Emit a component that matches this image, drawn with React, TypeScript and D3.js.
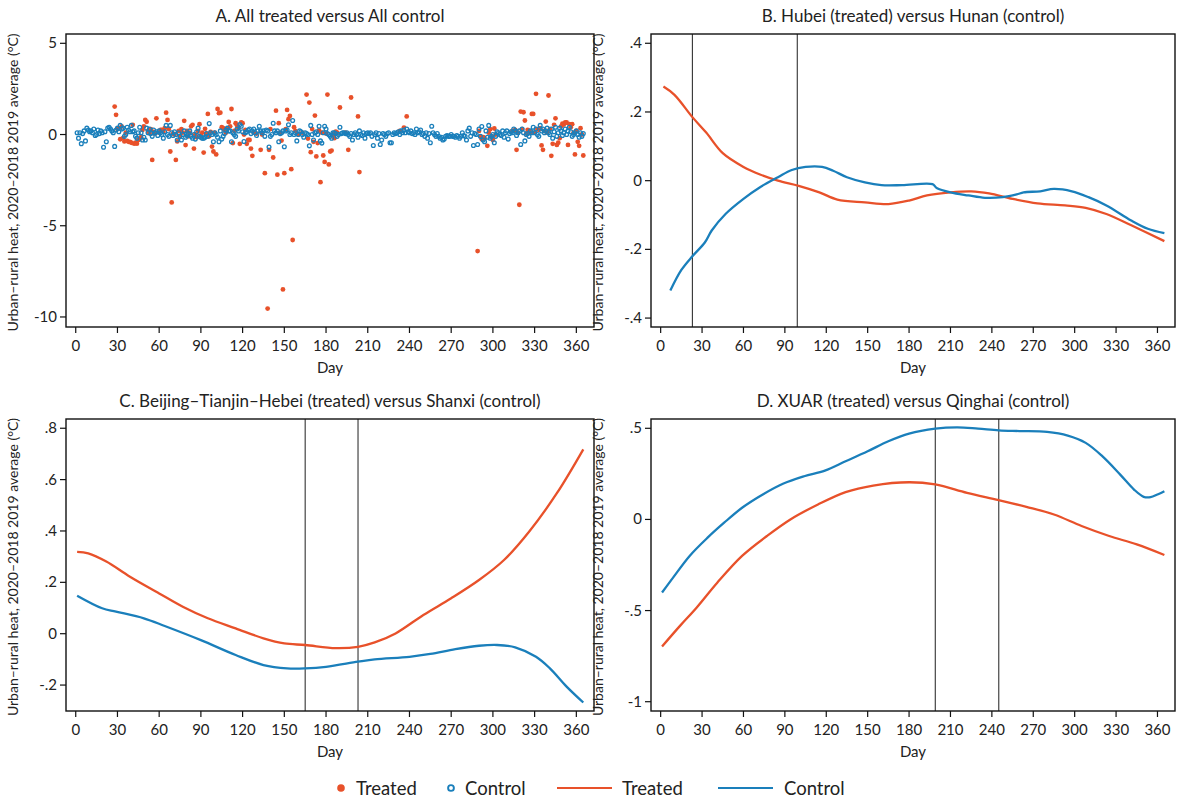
import React from "react";
import * as d3 from "d3";

const RED = "#e8512a";
const BLUE = "#1a7fbb";
const FONT = "Lato, 'Open Sans', 'DejaVu Sans', sans-serif";

const xTicks = [0, 30, 60, 90, 120, 150, 180, 210, 240, 270, 300, 330, 360];

// Panel A: control daily values (day 1..365)
const controlA: number[] = [
  0.1,-0.2,0.1,-0.5,0.05,0.2,-0.35,0.35,0.25,0.15,0.2,0.1,0.3,-0.05,0.0,0.25,0.05,0.2,0.1,-0.7,0.15,-0.4,0.35,0.4,0.3,0.2,0.1,-0.65,0.25,0.35,
  0.15,0.5,0.3,0.35,-0.1,0.0,0.4,0.25,0.15,0.5,0.15,0.2,-0.1,-0.2,0.1,0.4,0.1,-0.3,-0.15,-0.3,0.35,0.1,0.3,0.05,-0.1,0.25,0.1,0.15,-0.05,0.2,
  0.1,0.0,-0.2,0.15,0.5,0.0,-0.1,0.5,0.1,-0.05,0.15,0.0,-0.3,0.1,-0.1,-0.3,0.0,0.2,-0.15,-0.05,0.05,0.2,-0.1,-0.2,0.0,-0.25,0.15,0.35,-0.1,-0.15,
  -0.2,-0.2,-0.15,0.05,-0.1,0.6,0.1,0.0,-0.4,0.1,0.0,-0.15,-0.4,0.2,-0.25,-0.1,0.05,0.25,0.35,0.2,0.2,-0.4,0.1,0.0,-0.1,0.3,0.2,0.55,0.45,0.15,
  -0.38,0.1,0.15,0.25,0.3,0.05,0.2,0.3,0.1,-0.05,0.2,0.45,0.2,0.1,0.2,-0.1,0.25,0.2,-0.69,-0.1,0.0,0.62,0.2,0.1,0.2,-0.4,0.05,0.1,0.2,-0.67,
  0.2,0.25,0.53,0.0,0.1,0.77,0.0,0.1,-0.35,0.0,0.2,0.15,0.0,-0.15,0.1,0.05,0.0,-0.62,0.5,0.0,-0.3,0.1,0.15,0.0,0.45,-0.35,-0.47,0.1,0.45,0.3,
  0.05,0.0,-0.1,-0.2,0.1,0.1,0.05,-0.1,0.0,0.4,0.05,0.1,0.1,0.05,0.1,0.0,-0.1,0.05,-0.3,0.0,0.1,0.0,-0.15,0.2,0.0,-0.05,0.1,-0.2,0.05,0.1,
  0.05,0.1,-0.1,-0.6,0.0,0.1,-0.2,0.05,-0.55,-0.3,0.05,0.0,-0.1,0.05,0.1,-0.45,-0.45,0.0,0.1,0.05,0.1,0.15,0.0,0.2,0.1,0.25,0.1,0.3,0.15,0.1,
  0.2,0.05,0.1,0.0,0.3,0.1,0.15,0.25,0.0,0.05,-0.1,0.1,-0.2,0.05,-0.45,0.45,0.1,0.0,-0.1,0.05,-0.1,-0.2,-0.15,-0.3,-0.25,-0.1,-0.05,-0.1,-0.1,0.0,
  -0.1,-0.1,-0.15,-0.05,-0.1,-0.2,-0.1,0.1,-0.05,-0.1,-0.3,0.2,0.35,-0.1,0.1,-0.6,0.05,0.0,-0.55,0.3,-0.1,0.44,-0.3,-0.4,0.2,-0.15,0.5,-0.2,-0.1,0.0,
  -0.45,-0.1,0.15,0.1,0.0,-0.05,0.2,-0.15,0.1,0.2,-0.25,0.05,0.15,0.1,0.3,0.2,-0.05,0.1,0.2,-0.55,0.3,0.1,-0.35,0.0,0.05,-0.1,0.2,0.1,0.4,0.1,
  0.3,0.0,-0.1,0.5,0.2,0.3,0.1,0.2,0.35,0.1,0.0,0.3,-0.2,0.15,0.4,-0.1,0.1,0.35,0.2,-0.05,0.1,0.3,0.0,0.2,0.4,0.15,-0.1,0.0,0.1,0.2,
  0.0,-0.15,0.1,-0.1,0.05,
];

// Panel A: treated [day, value]
const treatedA: [number, number][] = [
  [28,1.53],[29,1.08],[30,0.3],[31,0.35],[32,-0.26],[33,0.44],[34,-0.2],[35,-0.38],[36,0.1],[37,-0.35],[38,-0.4],[39,-0.4],[40,-0.45],[41,0.53],[42,-0.5],[43,-0.45],[44,-0.5],[45,-0.3],[46,-0.25],[47,-0.15],[48,0.25],[49,0.45],[50,0.8],[51,0.7],[52,0.2],[53,0.07],[54,0.3],[55,-1.39],[56,0.15],[57,0.05],[58,0.89],[60,0.1],[61,0.26],[62,0.25],[63,0.15],[64,0.35],[65,1.2],[66,0.8],[67,0.3],[68,-0.93],[69,-3.72],[70,0.05],[71,0.0],[72,-1.39],[73,-0.38],[74,0.2],[75,-0.1],[76,0.3],[77,0.1],[78,0.75],[79,-0.58],[80,0.2],[81,-0.1],[82,0.1],[83,0.45],[84,0.53],[85,-0.77],[86,0.0],[87,-0.15],[88,0.2],[89,0.57],[90,-0.05],[91,0.1],[92,-0.99],[93,0.31],[94,0.05],[95,1.13],[96,-0.1],[97,0.15],[98,-0.66],[99,-0.93],[100,0.1],[101,-1.09],[102,1.4],[103,1.17],[104,1.2],[105,0.4],[106,0.35],[107,0.26],[108,0.1],[109,0.3],[110,0.69],[111,0.45],[112,1.4],[113,-0.47],[114,0.2],[115,0.62],[116,0.51],[117,0.35],[118,-0.51],[119,0.66],[120,0.62],[121,0.0],[122,0.25],[123,-0.51],[124,-0.29],[125,-0.3],[126,-0.77],[127,-1.17],[128,0.1],[130,0.05],[133,-0.84],[134,0.0],[136,-2.12],[138,-9.54],[139,-0.84],[140,0.3],[142,-1.26],[144,1.31],[145,-2.2],[146,0.62],[147,0.1],[148,-0.33],[149,-8.49],[150,-2.12],[151,0.3],[152,1.35],[153,0.84],[154,1.02],[155,-1.9],[156,-5.78],[157,0.4],[158,0.2],[160,0.0],[163,0.1],[166,2.19],[167,-0.22],[168,1.75],[169,-0.97],[170,0.3],[171,-0.4],[172,1.04],[173,-1.2],[174,-0.47],[175,0.22],[176,-2.61],[177,0.1],[178,-1.15],[179,-1.5],[180,0.05],[181,2.19],[182,-1.64],[183,-0.93],[184,-0.88],[185,0.0],[186,-0.2],[187,0.16],[188,0.1],[190,1.48],[194,0.1],[196,-0.84],[198,2.03],[203,0.99],[204,-2.06],[233,0.2],[236,0.38],[238,0.99],[289,-6.39],[290,0.2],[291,-0.1],[292,-0.26],[293,-0.15],[294,-0.2],[296,-0.62],[297,0.1],[298,0.29],[299,-0.15],[300,-0.3],[301,0.33],[302,0.0],[314,0.2],[316,0.25],[317,-0.84],[318,0.1],[319,-3.85],[320,1.26],[321,0.3],[322,1.22],[323,0.77],[324,0.05],[325,0.26],[326,0.2],[327,0.1],[328,1.13],[329,1.13],[330,0.1],[331,2.23],[332,0.3],[333,0.26],[334,0.35],[335,-0.6],[336,-0.84],[337,0.2],[338,0.71],[339,0.1],[340,2.14],[341,0.3],[342,-1.17],[343,-0.51],[344,0.53],[345,0.89],[346,-0.57],[347,-0.45],[348,-0.2],[349,0.45],[350,0.6],[351,0.55],[352,0.66],[353,0.66],[354,-0.57],[355,0.57],[356,0.4],[357,0.57],[358,0.1],[359,-1.09],[360,0.2],[361,-0.4],[362,-0.62],[363,0.35],[364,0.0],[365,-1.15],
];

// Panel B
const treatedB: [number, number][] = [
  [2,0.274],[10,0.25],[23,0.185],[33,0.14],[45,0.08],[60,0.04],[72,0.018],[85,0.0],[100,-0.015],[115,-0.034],[128,-0.055],[148,-0.063],[165,-0.068],[180,-0.058],[193,-0.043],[210,-0.034],[225,-0.031],[238,-0.037],[255,-0.053],[273,-0.066],[293,-0.072],[308,-0.079],[323,-0.097],[341,-0.13],[365,-0.176],
];
const controlB: [number, number][] = [
  [7,-0.32],[15,-0.26],[23,-0.22],[32,-0.18],[37,-0.145],[47,-0.097],[60,-0.053],[72,-0.019],[85,0.01],[95,0.031],[105,0.04],[117,0.04],[125,0.029],[135,0.01],[148,-0.005],[160,-0.013],[175,-0.013],[197,-0.01],[200,-0.021],[210,-0.034],[223,-0.043],[235,-0.05],[248,-0.048],[258,-0.04],[263,-0.034],[275,-0.031],[285,-0.024],[298,-0.031],[310,-0.048],[323,-0.072],[341,-0.116],[353,-0.14],[365,-0.153],
];
const linesB = [23, 99];

// Panel C
const treatedC: [number, number][] = [
  [1,0.319],[9,0.313],[22,0.281],[39,0.222],[60,0.157],[77,0.105],[95,0.06],[115,0.021],[135,-0.018],[150,-0.038],[165,-0.044],[187,-0.056],[203,-0.051],[215,-0.034],[230,0.001],[250,0.073],[270,0.138],[290,0.209],[308,0.287],[326,0.397],[346,0.547],[365,0.718],
];
const controlC: [number, number][] = [
  [1,0.148],[19,0.099],[29,0.086],[49,0.06],[64,0.03],[90,-0.025],[115,-0.083],[135,-0.122],[152,-0.135],[165,-0.135],[180,-0.129],[203,-0.109],[215,-0.1],[240,-0.09],[255,-0.079],[273,-0.06],[290,-0.047],[303,-0.044],[316,-0.053],[331,-0.09],[341,-0.135],[353,-0.206],[365,-0.268],
];
const linesC = [165, 203];

// Panel D
const treatedD: [number, number][] = [
  [1,-0.697],[14,-0.584],[26,-0.484],[41,-0.347],[59,-0.2],[77,-0.091],[94,0.0],[114,0.082],[134,0.15],[154,0.186],[180,0.204],[199,0.192],[222,0.146],[245,0.106],[265,0.069],[285,0.027],[305,-0.036],[325,-0.091],[345,-0.137],[365,-0.195],
];
const controlD: [number, number][] = [
  [1,-0.401],[9,-0.319],[21,-0.2],[34,-0.1],[46,-0.018],[59,0.064],[74,0.137],[89,0.197],[104,0.237],[119,0.268],[134,0.319],[150,0.374],[165,0.429],[180,0.471],[199,0.498],[215,0.505],[230,0.498],[245,0.489],[260,0.485],[280,0.48],[295,0.46],[308,0.42],[320,0.347],[333,0.246],[343,0.164],[350,0.124],[355,0.122],[360,0.137],[365,0.155],
];
const linesD = [199, 245];

const yTicksA = [5, 0, -5, -10];
const yTicksB = [0.4, 0.2, 0, -0.2, -0.4];
const yTicksC = [0.8, 0.6, 0.4, 0.2, 0, -0.2];
const yTicksD = [0.5, 0, -0.5, -1];

const titles = [
  "A. All treated versus All control",
  "B. Hubei (treated) versus Hunan (control)",
  "C. Beijing–Tianjin–Hebei (treated) versus Shanxi (control)",
  "D. XUAR (treated) versus Qinghai (control)",
];
const yTitle = "Urban–rural heat, 2020–2018 2019 average (°C)";
const legendLabels = ["Treated", "Control", "Treated", "Control"];

const fmt = (v: number) => {
  if (v === 0) return "0";
  if (Number.isInteger(v)) return String(v);
  return String(v).replace("0.", ".");
};

type PanelProps = {
  left: number; right: number; top: number; bottom: number;
  yDomain: [number, number]; yTicks: number[]; title: string;
  children: (x: d3.ScaleLinear<number, number>, y: d3.ScaleLinear<number, number>) => React.ReactNode;
};

function Panel({ left, right, top, bottom, yDomain, yTicks, title, children }: PanelProps) {
  const x = d3.scaleLinear().domain([-7, 372.7]).range([left, right]);
  const y = d3.scaleLinear().domain(yDomain).range([top, bottom]);
  const cx = (left + right) / 2;
  const cy = (top + bottom) / 2;
  return (
    <g>
      <text x={cx} y={top - 12} textAnchor="middle" fontSize={17} fill="#222">{title}</text>
      <g>{children(x, y)}</g>
      <rect x={left} y={top} width={right - left} height={bottom - top} fill="none" stroke="#111" strokeWidth={1.4} />
      {yTicks.map((t) => (
        <g key={"y" + t}>
          <line x1={left - 6} x2={left} y1={y(t)} y2={y(t)} stroke="#111" strokeWidth={1.2} />
          <text x={left - 9} y={y(t) + 5} textAnchor="end" fontSize={15} fill="#222">{fmt(t)}</text>
        </g>
      ))}
      {xTicks.map((t) => (
        <g key={"x" + t}>
          <line x1={x(t)} x2={x(t)} y1={bottom} y2={bottom + 6} stroke="#111" strokeWidth={1.2} />
          <text x={x(t)} y={bottom + 24} textAnchor="middle" fontSize={15} fill="#222">{t}</text>
        </g>
      ))}
      <text x={cx} y={bottom + 46} textAnchor="middle" fontSize={15} fill="#222">Day</text>
      <text transform={`translate(${left - 48},${cy + 2}) rotate(-90)`} textAnchor="middle" fontSize={14} fill="#222">{yTitle}</text>
    </g>
  );
}

function Lines({ x, y, treated, control, vlines, top, bottom }: any) {
  const gen = d3.line<[number, number]>().x((d) => x(d[0])).y((d) => y(d[1])).curve(d3.curveCatmullRom.alpha(0.5));
  return (
    <g>
      {vlines.map((v: number) => (
        <line key={v} x1={x(v)} x2={x(v)} y1={top} y2={bottom} stroke="#333" strokeWidth={1.1} />
      ))}
      <path d={gen(treated) || ""} fill="none" stroke={RED} strokeWidth={2.3} />
      <path d={gen(control) || ""} fill="none" stroke={BLUE} strokeWidth={2.3} />
    </g>
  );
}

export default function App() {
  const L1 = 66, R1 = 594, L2 = 651, R2 = 1175;
  const T1 = 34, B1 = 327, T2 = 419, B2 = 711;
  return (
    <svg width={1179} height={802} style={{ position: "absolute", left: 0, top: 0, background: "#fff" }} fontFamily={FONT}>
      <rect width={1179} height={802} fill="#fff" />
      <Panel left={L1} right={R1} top={T1} bottom={B1} yDomain={[5.51, -10.55]} yTicks={yTicksA} title={titles[0]}>
        {(x, y) => (
          <g>
            {treatedA.map(([d, v]) => (
              <circle key={"t" + d} cx={x(d)} cy={y(v)} r={2.4} fill={RED} />
            ))}
            {controlA.map((v, i) => (
              <circle key={"c" + i} cx={x(i + 1)} cy={y(v)} r={1.9} fill="none" stroke={BLUE} strokeWidth={1.3} />
            ))}
          </g>
        )}
      </Panel>
      <Panel left={L2} right={R2} top={T1} bottom={B1} yDomain={[0.427, -0.426]} yTicks={yTicksB} title={titles[1]}>
        {(x, y) => <Lines x={x} y={y} treated={treatedB} control={controlB} vlines={linesB} top={T1} bottom={B1} />}
      </Panel>
      <Panel left={L1} right={R1} top={T2} bottom={B2} yDomain={[0.836, -0.301]} yTicks={yTicksC} title={titles[2]}>
        {(x, y) => <Lines x={x} y={y} treated={treatedC} control={controlC} vlines={linesC} top={T2} bottom={B2} />}
      </Panel>
      <Panel left={L2} right={R2} top={T2} bottom={B2} yDomain={[0.551, -1.051]} yTicks={yTicksD} title={titles[3]}>
        {(x, y) => <Lines x={x} y={y} treated={treatedD} control={controlD} vlines={linesD} top={T2} bottom={B2} />}
      </Panel>
      <g fontSize={18.5} fill="#222">
        <circle cx={341} cy={788} r={3.8} fill={RED} />
        <text x={356} y={794.5}>{legendLabels[0]}</text>
        <circle cx={451} cy={788} r={2.9} fill="none" stroke={BLUE} strokeWidth={1.9} />
        <text x={465} y={794.5}>{legendLabels[1]}</text>
        <line x1={557} x2={612} y1={788} y2={788} stroke={RED} strokeWidth={2} />
        <text x={622} y={794.5}>{legendLabels[2]}</text>
        <line x1={718} x2={773} y1={788} y2={788} stroke={BLUE} strokeWidth={2} />
        <text x={784} y={794.5}>{legendLabels[3]}</text>
      </g>
    </svg>
  );
}
